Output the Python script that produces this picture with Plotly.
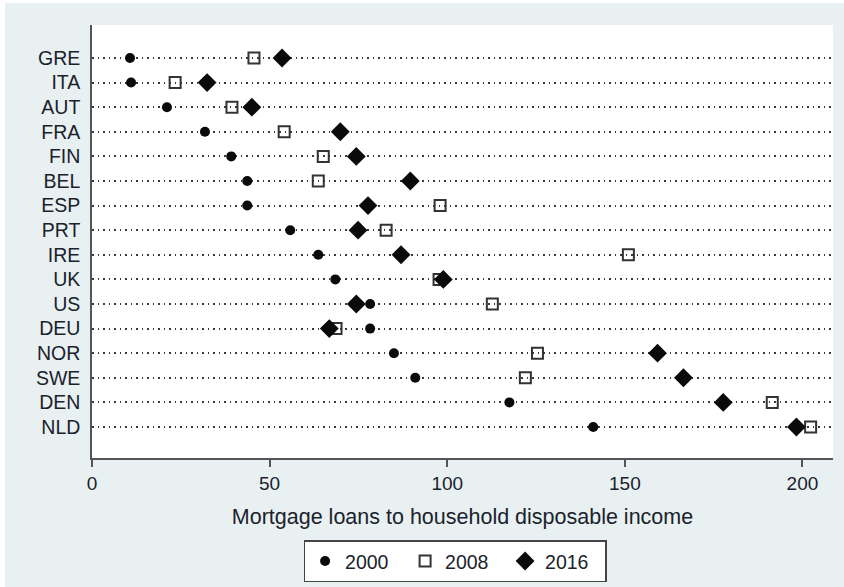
import plotly.graph_objects as go

countries = ["GRE", "ITA", "AUT", "FRA", "FIN", "BEL", "ESP", "PRT",
             "IRE", "UK", "US", "DEU", "NOR", "SWE", "DEN", "NLD"]
v2000 = [10.7, 11.0, 21.1, 31.8, 39.2, 43.7, 43.7, 55.8,
         63.7, 68.5, 78.3, 78.3, 85.0, 91.0, 117.5, 141.1]
v2008 = [45.6, 23.4, 39.4, 54.1, 65.1, 63.7, 98.0, 82.8,
         151.0, 97.7, 112.7, 68.7, 125.4, 122.0, 191.5, 202.3]
v2016 = [53.5, 32.4, 45.0, 69.9, 74.4, 89.6, 77.7, 74.9,
         87.0, 98.9, 74.4, 66.8, 159.2, 166.5, 177.7, 198.3]
x_ticks = [0, 50, 100, 150, 200]

FONT = "Liberation Sans, Arial, sans-serif"
TXT = "#1a222c"
BG = "#e9f0f2"

fig = go.Figure()
fig.add_trace(go.Scatter(
    x=v2000, y=countries, mode="markers", name="2000",
    marker=dict(symbol="circle", size=10, color="#0a0a0a", line=dict(width=0)),
))
fig.add_trace(go.Scatter(
    x=v2008, y=countries, mode="markers", name="2008",
    marker=dict(symbol="square-open", size=11, color="#333333", line=dict(width=2, color="#333333")),
))
fig.add_trace(go.Scatter(
    x=v2016, y=countries, mode="markers", name="2016",
    marker=dict(symbol="diamond", size=14.5, color="#0a0a0a", line=dict(width=0)),
))

fig.update_layout(
    width=844, height=587,
    margin=dict(l=92, r=11, t=25, b=129, autoexpand=False),
    paper_bgcolor=BG, plot_bgcolor="white",
    font=dict(family=FONT, size=19, color=TXT),
    showlegend=True,
    legend=dict(
        orientation="h", x=0.49, xanchor="center", y=-0.19, yanchor="top",
        bgcolor="white", bordercolor="#444444", borderwidth=1.5,
        font=dict(size=19.5, color=TXT), entrywidth=55, entrywidthmode="pixels",
        itemsizing="trace",
    ),
    xaxis=dict(
        range=[0, 208.6], tickvals=x_ticks, ticktext=[str(t) for t in x_ticks],
        showgrid=False, zeroline=False,
        showline=True, linecolor="#555555", linewidth=1.5,
        ticks="outside", ticklen=7, tickwidth=1.5, tickcolor="#555555",
        tickfont=dict(size=19, color=TXT),
        title=dict(text="Mortgage loans to household disposable income",
                   font=dict(size=21.5, color=TXT), standoff=16),
    ),
    yaxis=dict(
        type="category", categoryorder="array", categoryarray=countries,
        range=[16.26, -1.34],
        showgrid=True, gridcolor="#3a3a3a", gridwidth=1.5, griddash="1.5px,4px",
        zeroline=False,
        showline=True, linecolor="#555555", linewidth=1.5,
        ticks="outside", ticklen=6, tickcolor="rgba(0,0,0,0)",
        tickfont=dict(size=19.5, color=TXT),
    ),
    shapes=[
        dict(type="rect", xref="paper", yref="paper", x0=-0.13, x1=-0.1174,
             y0=-0.31, y1=1.07, fillcolor="white", line=dict(width=0), layer="below"),
        dict(type="rect", xref="paper", yref="paper", x0=-0.13, x1=1.03,
             y0=1.0508, y1=1.07, fillcolor="white", line=dict(width=0), layer="below"),
    ],
)

fig.write_html("out.html")
